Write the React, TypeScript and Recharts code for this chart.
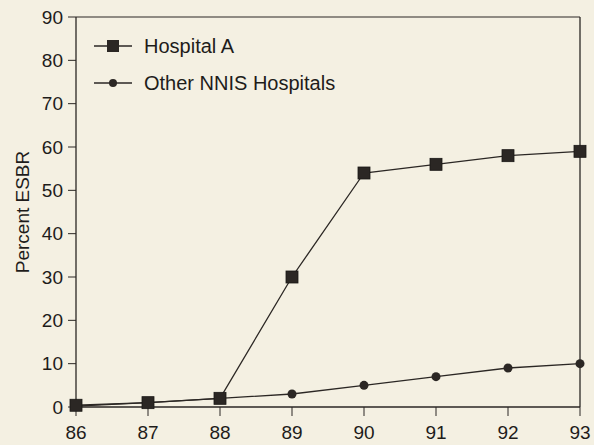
import React from 'react';
import { LineChart, Line, XAxis, YAxis, ReferenceLine, Label } from 'recharts';

const years = [86, 87, 88, 89, 90, 91, 92, 93];
const hospitalA = [0.4, 1, 2, 30, 54, 56, 58, 59];
const otherNNIS = [0.2, 1, 2, 3, 5, 7, 9, 10];
const yTicks = [0, 10, 20, 30, 40, 50, 60, 70, 80, 90];
const seriesNames = ['Hospital A', 'Other NNIS Hospitals'];

const data = years.map((y, i) => ({ year: y, a: hospitalA[i], o: otherNNIS[i] }));

const INK = '#2b2724';
const BG = '#f4f0e2';
const FONT = '"Liberation Sans", Arial, Helvetica, sans-serif';

const SquareDot = (props: any) => {
  const { cx, cy } = props;
  if (cx == null || cy == null) return null;
  return <rect x={cx - 6} y={cy - 6} width={12} height={12} fill={INK} stroke="#1a1816" strokeWidth={0.8} />;
};

const CircleDot = (props: any) => {
  const { cx, cy } = props;
  if (cx == null || cy == null) return null;
  return <circle cx={cx} cy={cy} r={4.5} fill={INK} />;
};

const LegendBox = () => (
  <svg width={280} height={80} style={{ display: 'block', position: 'absolute', left: 80, top: 25 }}>
    <line x1={14} x2={52} y1={21} y2={21} stroke={INK} strokeWidth={1.3} />
    <rect x={27} y={15} width={12} height={12} fill={INK} />
    <text x={64} y={28} fontSize={20} fill="#1e1c1a" fontFamily={FONT}>{seriesNames[0]}</text>
    <line x1={14} x2={52} y1={58} y2={58} stroke={INK} strokeWidth={1.3} />
    <circle cx={33} cy={58} r={4} fill={INK} />
    <text x={64} y={65} fontSize={20} fill="#1e1c1a" fontFamily={FONT}>{seriesNames[1]}</text>
  </svg>
);

export default function App() {
  return (
    <div style={{ position: 'absolute', left: 0, top: 0, width: 594, height: 445, background: BG }}>
      <LineChart width={594} height={445} data={data} margin={{ top: 17, right: 14, bottom: 0, left: 0 }}>
        <XAxis
          dataKey="year"
          type="number"
          domain={[86, 93]}
          ticks={years}
          height={38}
          tickSize={9}
          tickMargin={10}
          axisLine={{ stroke: INK, strokeWidth: 1.6 }}
          tickLine={{ stroke: INK, strokeWidth: 1 }}
          tick={{ fill: '#1e1c1a', fontSize: 19, fontFamily: FONT }}
        />
        <YAxis
          type="number"
          domain={[0, 90]}
          ticks={yTicks}
          width={76}
          tickSize={8}
          tickMargin={5}
          axisLine={{ stroke: INK, strokeWidth: 1.3 }}
          tickLine={{ stroke: INK, strokeWidth: 1 }}
          tick={{ fill: '#1e1c1a', fontSize: 19, fontFamily: FONT }}
        >
          <Label
            value="Percent ESBR"
            angle={-90}
            position="insideLeft"
            offset={22}
            style={{ textAnchor: 'middle', fontSize: 19, fontFamily: FONT, fill: '#1e1c1a' }}
          />
        </YAxis>
        <ReferenceLine y={90} stroke={INK} strokeWidth={1.2} />
        <ReferenceLine x={93} stroke={INK} strokeWidth={1.3} />
        <Line
          dataKey="o"
          stroke={INK}
          strokeWidth={1.3}
          dot={<CircleDot />}
          isAnimationActive={false}
        />
        <Line
          dataKey="a"
          stroke={INK}
          strokeWidth={1.3}
          dot={<SquareDot />}
          isAnimationActive={false}
        />
      </LineChart>
      <LegendBox />
    </div>
  );
}
